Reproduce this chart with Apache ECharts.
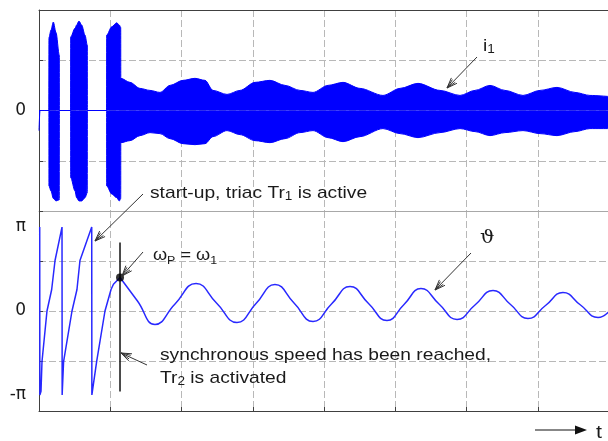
<!DOCTYPE html>
<html><head><meta charset="utf-8">
<script src="https://cdn.jsdelivr.net/npm/echarts@6/dist/echarts.min.js"></script>
<style>html,body{margin:0;padding:0;background:#fff}#c{width:608px;height:441px}</style>
</head><body><div id="c"></div>
<script>
// ---- data (time in grid divisions 0..8) ----
// stator current i1: envelope of the high-frequency current (upper / lower)
const iTime = [0, 0.014, 0.139, 0.140, 0.168, 0.201, 0.239, 0.285, 0.286, 0.444, 0.445, 0.505, 0.528, 0.561, 0.599, 0.646, 0.678, 0.679, 0.949, 0.950, 1.020, 1.091, 1.127, 1.147, 1.148,
  1.277, 1.418, 1.558, 1.698, 1.839, 2.021, 2.189, 2.330, 2.442, 2.639, 2.821, 3.032, 3.242, 3.453, 3.663, 3.846, 4.056, 4.267, 4.505, 4.828, 5.067, 5.319, 5.628, 5.909, 6.119, 6.330, 6.540, 6.793, 7.032, 7.270, 7.523, 7.733, 7.986];
const iUpper = [0, 0, 0, 2.9, 3.2, 3.52, 3.1, 2.2, 0, 0, 2.93, 3.27, 3.4, 3.56, 3.4, 3.0, 2.6, 0, 0, 3.0, 3.33, 3.49, 3.4, 3.3, 1.28,
  1.12, 0.88, 0.8, 0.72, 1.0, 1.2, 1.28, 1.2, 0.8, 0.64, 0.8, 1.12, 1.2, 1.0, 0.8, 0.72, 1.0, 1.12, 0.88, 0.6, 0.88, 1.08, 0.8, 0.6, 0.8, 1.0, 0.8, 0.6, 0.8, 0.92, 0.72, 0.6, 0.56];
const iLower = [-0.8, 0, 0, -3.0, -3.2, -3.5, -3.6, -3.55, 0, 0, -2.67, -3.2, -3.47, -3.6, -3.6, -3.47, -3.27, 0, 0, -3.0, -3.32, -3.47, -3.6, -3.5, -1.28,
  -1.2, -1.0, -0.88, -0.92, -1.12, -1.32, -1.36, -1.32, -1.04, -0.8, -0.96, -1.2, -1.28, -1.12, -0.88, -0.8, -1.08, -1.24, -1.04, -0.72, -0.92, -1.08, -0.88, -0.72, -0.84, -1.0, -0.88, -0.8, -0.92, -1.0, -0.84, -0.72, -0.72];

// rotor angle theta (rad): start-up sawtooth, then oscillation
const sawTime = [0.010, 0.012, 0.028, 0.042, 0.112, 0.178, 0.225, 0.323, 0.325, 0.345, 0.463, 0.533, 0.575, 0.740, 0.742, 0.810, 0.926, 1.011, 1.045, 1.137];
const sawTheta = [3.14, -3.14, -3.0, -1.889, 0, 0.804, 1.889, 3.14, -3.14, -1.889, 0, 0.804, 1.889, 3.14, -3.14, -1.877, 0, 0.804, 1.0, 1.253];
const oscTime = [1.137, 1.382, 1.628, 1.909, 2.204, 2.491, 2.779, 3.046, 3.312, 3.579, 3.846, 4.105, 4.365, 4.625, 4.884, 5.123, 5.361, 5.614, 5.867, 6.119, 6.372, 6.618, 6.863, 7.109, 7.354, 7.600, 7.846, 8.0];
const oscTheta = [1.253, 0.374, -0.505, 0.262, 1.028, 0.299, -0.430, 0.280, 0.991, 0.299, -0.393, 0.262, 0.916, 0.280, -0.355, 0.243, 0.841, 0.262, -0.318, 0.224, 0.767, 0.243, -0.280, 0.206, 0.692, 0.224, -0.243, -0.02];

// synchronisation instant (omega_P = omega_1)
const syncTime = [1.137, 1.137];
const syncLine = [2.56, -3.01];
const syncPoint = [1.137, 1.253];

// tick labels
const iTickLabels = { '0': '0' };
const thetaTicks = [-Math.PI, 0, Math.PI];
const thetaTickLabels = ['-π', '0', 'π'];

const zip = (a, b) => a.map((v, k) => [v, b[k]]);

// ---- styles ----
const BLUE = '#0000ff';
const THETA_BLUE = '#2828ff';
const GRIDC = '#b8b8b8';
const FRAME = '#404040';
const TXT = '#1a1a1a';
const SX = 1.13;
const split = { show: true, lineStyle: { color: GRIDC, type: [7, 3], width: 1 } };

function txt(x, y, text, size, family, rich) {
  return { type: 'text', x: x, y: y, scaleX: SX, z: 100,
    style: { x: 0, y: 0, text: text, fill: TXT, fontSize: size, fontFamily: family || 'Liberation Sans', verticalAlign: 'middle', align: 'left', rich: rich } };
}
function richSub(size, sub) {
  return {
    a: { fontSize: size, fontFamily: 'Liberation Sans', fill: TXT, lineHeight: 20 },
    s: { fontSize: sub, fontFamily: 'Liberation Sans', fill: TXT, lineHeight: 11, verticalAlign: 'bottom' }
  };
}
function arrow(x1, y1, x2, y2) {
  const ang = Math.atan2(y2 - y1, x2 - x1);
  const els = [{ type: 'line', z: 100, shape: { x1: x1, y1: y1, x2: x2, y2: y2 }, style: { stroke: '#333', lineWidth: 1 } }];
  [[11, 0.36], [10, 0.2]].forEach(([L, a]) => {
    els.push({ type: 'polyline', z: 100, shape: { points: [
      [x2 - L * Math.cos(ang - a), y2 - L * Math.sin(ang - a)], [x2, y2],
      [x2 - L * Math.cos(ang + a), y2 - L * Math.sin(ang + a)]] },
      style: { stroke: '#333', lineWidth: 1, fill: null } });
  });
  return els;
}

const graphics = [].concat(
  [txt(150, 193, '{a|start-up, triac Tr}{s|1}{a| is active}', 17, null, richSub(17, 12))],
  [txt(153, 256, '{a|ω}{s|P}{a| = ω}{s|1}', 16, null, richSub(16, 11))],
  [txt(160, 355, 'synchronous speed has been reached,', 17)],
  [txt(160, 378, '{a|Tr}{s|2}{a| is activated}', 17, null, richSub(17, 12))],
  [txt(483, 46, '{a|i}{s|1}', 17, null, richSub(17, 12))],
  [txt(480, 238, 'ϑ', 18, 'DejaVu Serif')],
  [txt(596, 433, 't', 19)],
  arrow(143, 194, 95, 241),
  arrow(143, 252, 122, 276),
  arrow(147, 365, 121, 353),
  arrow(477, 57, 447, 88),
  arrow(471, 253, 435, 290),
  [{ type: 'line', z: 100, shape: { x1: 535, y1: 430, x2: 578, y2: 430 }, style: { stroke: '#111', lineWidth: 1.2 } },
   { type: 'polygon', z: 100, shape: { points: [[575, 425.5], [587, 430], [575, 434.5]] }, style: { fill: '#111' } }]
);

const chart = echarts.init(document.getElementById('c'), null, { renderer: 'canvas' });
chart.setOption({
  animation: false,
  backgroundColor: '#fff',
  grid: [
    { left: 39, right: -1, top: 10, height: 201, outerBoundsMode: 'none', containLabel: false },
    { left: 39, right: -1, top: 211, height: 200, outerBoundsMode: 'none', containLabel: false }
  ],
  xAxis: [
    { gridIndex: 0, type: 'value', min: 0, max: 8, interval: 1,
      axisLine: { show: true, onZero: false, lineStyle: { color: '#a8a8a8', width: 1 } },
      axisTick: { show: false }, axisLabel: { show: false }, splitLine: split },
    { gridIndex: 0, type: 'value', position: 'top', min: 0, max: 8, interval: 1,
      axisLine: { show: true, onZero: false, lineStyle: { color: FRAME, width: 1 } },
      axisTick: { show: false }, axisLabel: { show: false }, splitLine: { show: false } },
    { gridIndex: 1, type: 'value', min: 0, max: 8, interval: 1,
      axisLine: { show: true, onZero: false, lineStyle: { color: FRAME, width: 1 } },
      axisTick: { show: true, inside: true, length: 4, lineStyle: { color: FRAME } },
      axisLabel: { show: false }, splitLine: split }
  ],
  yAxis: [
    { gridIndex: 0, type: 'value', min: -4, max: 4, interval: 2,
      axisLine: { show: true, onZero: false, lineStyle: { color: FRAME, width: 1 } },
      axisTick: { show: true, inside: true, length: 4, lineStyle: { color: FRAME } },
      axisLabel: { formatter: v => iTickLabels[String(v)] || '', fontSize: 17, fontFamily: 'DejaVu Sans', color: TXT, margin: 13 },
      splitLine: split },
    { gridIndex: 1, type: 'value', min: -3.74, max: 3.74, interval: 1.87,
      axisLine: { show: true, onZero: false, lineStyle: { color: FRAME, width: 1 } },
      axisTick: { show: true, inside: true, length: 4, lineStyle: { color: FRAME } },
      axisLabel: { show: false }, splitLine: split },
    { gridIndex: 1, type: 'value', position: 'left', min: -3.74, max: 3.74,
      axisLine: { show: false, onZero: false }, axisTick: { show: false }, splitLine: { show: false },
      axisLabel: { customValues: thetaTicks, fontSize: 17, fontFamily: 'DejaVu Sans', color: TXT, margin: 13,
        formatter: v => { const k = thetaTicks.findIndex(t => Math.abs(t - v) < 1e-6); return k >= 0 ? thetaTickLabels[k] : ''; } } }
  ],
  series: [
    { type: 'line', xAxisIndex: 0, yAxisIndex: 0, data: zip(iTime, iUpper), symbol: 'none', smooth: 0.3, smoothMonotone: 'x',
      lineStyle: { color: BLUE, width: 1 }, areaStyle: { color: BLUE, opacity: 1, origin: 0 } },
    { type: 'line', xAxisIndex: 0, yAxisIndex: 0, data: zip(iTime, iLower), symbol: 'none', smooth: 0.3, smoothMonotone: 'x',
      lineStyle: { color: BLUE, width: 1 }, areaStyle: { color: BLUE, opacity: 1, origin: 0 } },
    { type: 'line', xAxisIndex: 2, yAxisIndex: 1, data: zip(sawTime, sawTheta), symbol: 'none',
      lineStyle: { color: THETA_BLUE, width: 1.5 } },
    { type: 'line', xAxisIndex: 2, yAxisIndex: 1, data: zip(oscTime, oscTheta), symbol: 'none', smooth: 0.5,
      lineStyle: { color: THETA_BLUE, width: 1.5 } },
    { type: 'line', xAxisIndex: 2, yAxisIndex: 1, data: zip(syncTime, syncLine), symbol: 'none', z: 5,
      lineStyle: { color: '#111', width: 1.5 } },
    { type: 'scatter', xAxisIndex: 2, yAxisIndex: 1, data: [syncPoint], symbol: 'circle', symbolSize: 8, z: 6,
      itemStyle: { color: '#000' } }
  ],
  graphic: graphics
});
</script>
</body></html>
